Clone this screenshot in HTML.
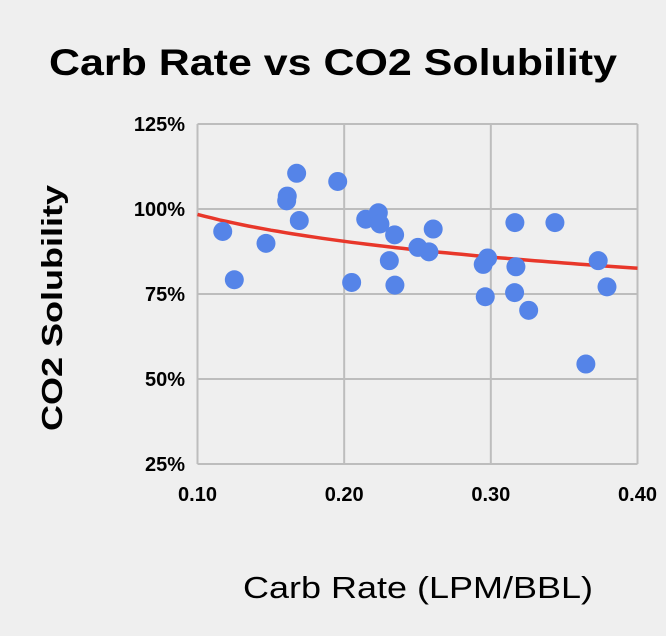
<!DOCTYPE html>
<html><head><meta charset="utf-8"><style>
html,body{margin:0;padding:0;background:#efefef;}
svg{display:block;font-family:"Liberation Sans",Arial,sans-serif;}
</style></head><body>
<svg id="chart" width="666" height="636" viewBox="0 0 666 636">
<rect width="666" height="636" fill="#efefef"/>
<text x="333" y="75" text-anchor="middle" font-size="37" font-weight="bold" textLength="568" lengthAdjust="spacingAndGlyphs">Carb Rate vs CO2 Solubility</text>
<text transform="translate(62,308) rotate(-90)" text-anchor="middle" font-size="29" font-weight="bold" textLength="246" lengthAdjust="spacingAndGlyphs">CO2 Solubility</text>
<text x="418" y="598" text-anchor="middle" font-size="31" textLength="350" lengthAdjust="spacingAndGlyphs">Carb Rate (LPM/BBL)</text>
<g id="grid"></g><g id="ticks"></g><g id="trend"></g><g id="points"></g>
</svg>
<script>
const xVals=[0.1676,0.1956,0.1612,0.1608,0.1694,0.1172,0.1467,0.1251,0.2051,0.2147,0.2233,0.2244,0.2344,0.2308,0.2346,0.2503,0.2578,0.2607,0.2978,0.2948,0.2962,0.3164,0.3171,0.3162,0.3258,0.3437,0.3732,0.3792,0.3648];
const yVals=[110.5,108.1,103.8,102.4,96.6,93.4,89.9,79.2,78.4,97.0,98.9,95.6,92.4,84.8,77.6,88.7,87.4,94.1,85.6,83.7,74.2,96.0,83.0,75.4,70.2,96.0,84.8,77.1,54.4];
const xTicks=[0.10,0.20,0.30,0.40];
const xTickLabels=["0.10","0.20","0.30","0.40"];
const yTicks=[25,50,75,100,125];
const yTickLabels=["25%","50%","75%","100%","125%"];
const trendA=98.4, trendB=-11.4; // y = A + B*ln(x/0.1)
const NS="http://www.w3.org/2000/svg";
const X0=197.5,X1=637.5,Y0=464,Y1=124;
const sx=v=>X0+(v-0.1)/0.3*(X1-X0);
const sy=v=>Y0-(v-25)/100*(Y0-Y1);
function mk(tag,attrs,parent){const e=document.createElementNS(NS,tag);for(const k in attrs)e.setAttribute(k,attrs[k]);parent.appendChild(e);return e;}
const grid=document.getElementById('grid'),ticks=document.getElementById('ticks'),trend=document.getElementById('trend'),pts=document.getElementById('points');
xTicks.forEach((t,i)=>{
  const l=mk('line',{x1:sx(t),x2:sx(t),y1:Y1,y2:Y0,stroke:'#bdbdbd','stroke-width':2},grid);
  
  
  const tx=mk('text',{x:sx(t),y:501,'text-anchor':'middle','font-size':20,'font-weight':'bold'},ticks);
  tx.textContent=xTickLabels[i];
  
  
});
yTicks.forEach((t,i)=>{
  const l=mk('line',{x1:X0,x2:X1,y1:sy(t),y2:sy(t),stroke:'#bdbdbd','stroke-width':2},grid);
  
  
  const tx=mk('text',{x:185,y:sy(t)+7,'text-anchor':'end','font-size':20,'font-weight':'bold'},ticks);
  tx.textContent=yTickLabels[i];
  
  
});
let d='';
for(let k=0;k<=60;k++){const x=0.1+0.3*k/60;const y=trendA+trendB*Math.log(x/0.1);d+=(k?'L':'M')+sx(x).toFixed(1)+' '+sy(y).toFixed(1);}
const tp=mk('path',{d:d,fill:'none',stroke:'#e8372a','stroke-width':3.5},trend);


xVals.forEach((x,i)=>{
  const c=mk('circle',{cx:sx(x),cy:sy(yVals[i]),r:9.5,fill:'#5584e8'},pts);
  
  
});
</script>
</body></html>
